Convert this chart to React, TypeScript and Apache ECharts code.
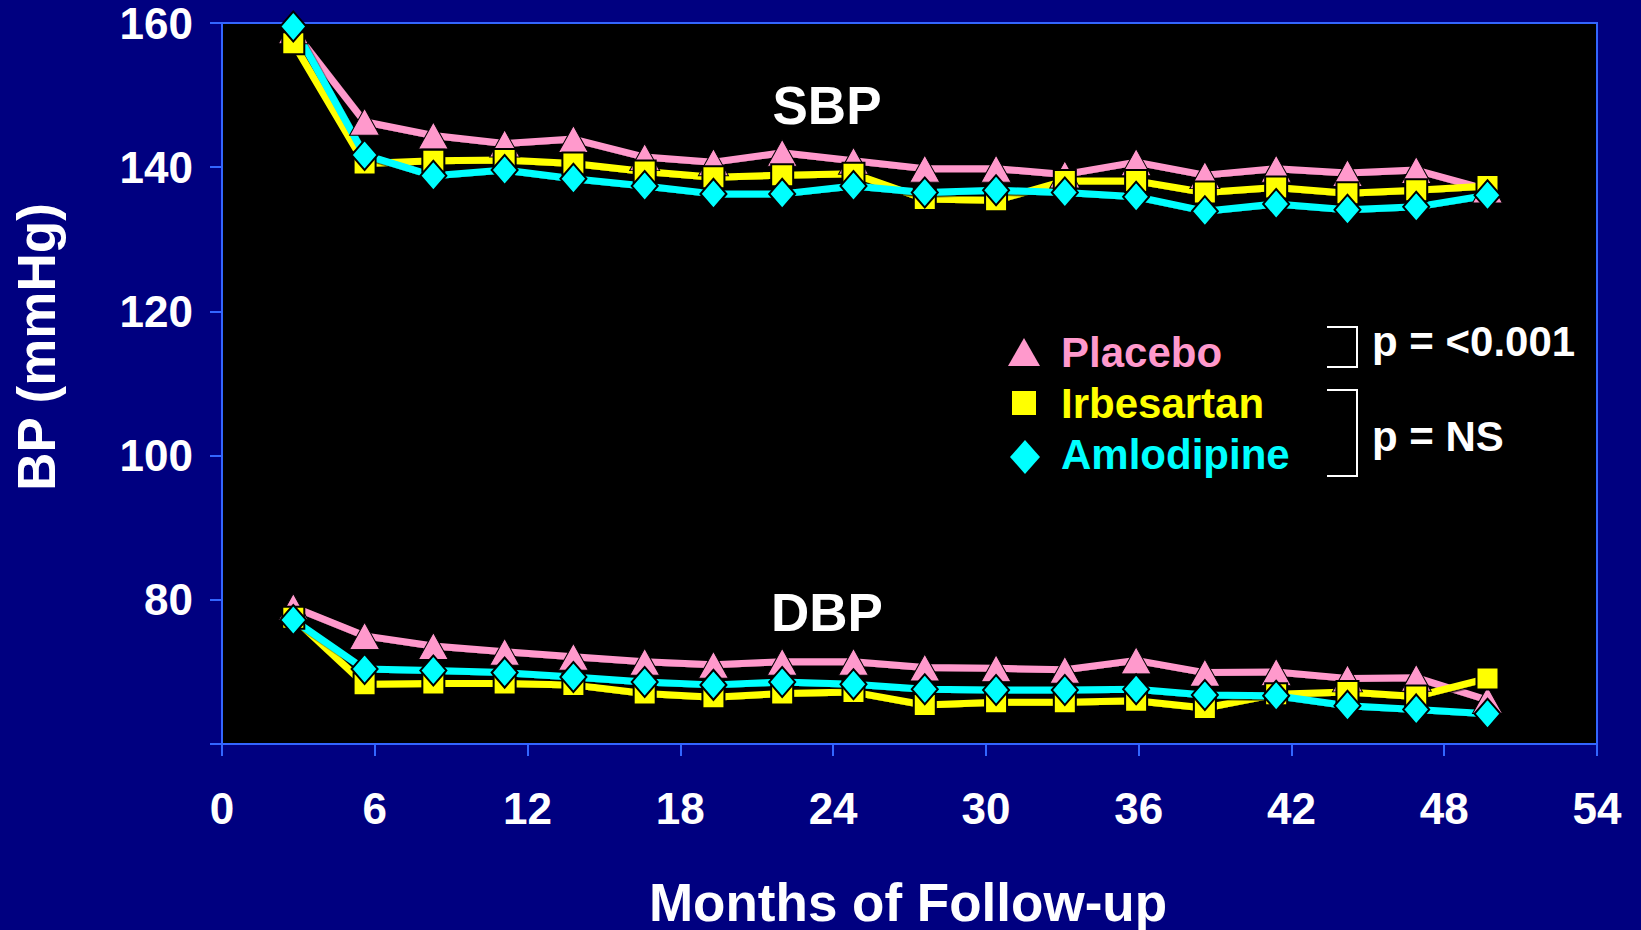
import React, { useEffect, useRef } from "react";
import * as echarts from "echarts";

// Months of follow-up at which BP was measured
const months = [2.8, 5.6, 8.3, 11.1, 13.8, 16.6, 19.3, 22.0, 24.8, 27.6, 30.4, 33.1, 35.9, 38.6, 41.4, 44.2, 46.9, 49.7];

// Systolic BP (mmHg)
const placeboSBP = [159.0, 146.3, 144.4, 143.3, 143.9, 141.4, 140.7, 142.0, 140.9, 139.8, 139.8, 139.0, 140.7, 138.9, 139.8, 139.2, 139.6, 136.9];
const irbesartanSBP = [157.2, 140.5, 140.9, 141.0, 140.5, 139.4, 138.6, 138.9, 139.1, 135.6, 135.4, 138.1, 138.1, 136.5, 137.2, 136.4, 136.8, 137.4];
const amlodipineSBP = [159.5, 141.7, 138.8, 139.6, 138.4, 137.4, 136.3, 136.3, 137.4, 136.5, 136.8, 136.5, 135.9, 133.9, 134.9, 134.1, 134.5, 136.1];

// Diastolic BP (mmHg)
const placeboDBP = [79.0, 75.0, 73.6, 72.8, 72.1, 71.4, 71.0, 71.4, 71.4, 70.6, 70.5, 70.3, 71.6, 69.9, 70.0, 69.1, 69.2, 66.1];
const irbesartanDBP = [77.5, 68.3, 68.4, 68.4, 68.2, 67.0, 66.5, 67.0, 67.2, 65.4, 65.8, 65.8, 66.0, 65.0, 66.9, 67.2, 66.6, 69.1];
const amlodipineDBP = [77.2, 70.4, 70.2, 69.9, 69.3, 68.6, 68.2, 68.6, 68.3, 67.6, 67.5, 67.5, 67.6, 66.8, 66.7, 65.3, 64.8, 64.2];

const groupNames = ["Placebo", "Irbesartan", "Amlodipine"];
const pValueLabels = ["p = <0.001", "p = NS"];
const panelLabels = ["SBP", "DBP"];
const xAxisTitle = "Months of Follow-up";
const yAxisTitle = "BP (mmHg)";

const X_MIN = 0, X_MAX = 54, X_STEP = 6;
const Y_MIN = 60, Y_MAX = 160, Y_STEP = 20;

const FONT = "'Liberation Sans', Arial, Helvetica, sans-serif";
const PINK = "#FF99CC";
const YELLOW = "#FFFF00";
const CYAN = "#00FFFF";
const AXIS = "#3366FF";
const NAVY = "#000080";

const pairs = (vals: number[]) => months.map((m, i) => [m, vals[i]]);

const lineShadow = {
  shadowColor: "rgba(0,0,0,0.85)",
  shadowBlur: 0,
  shadowOffsetX: 1.5,
  shadowOffsetY: 1.5,
};

function makeSeries(name: string, vals: number[], color: string, symbol: string, size: any, borderW: number) {
  return {
    type: "line",
    name,
    data: pairs(vals),
    symbol,
    symbolSize: size,
    showAllSymbol: true,
    lineStyle: { color, width: 7, ...lineShadow },
    itemStyle: { color, borderColor: "#000000", borderWidth: borderW },
    emphasis: { disabled: true },
  };
}

export default function App() {
  const ref = useRef<HTMLDivElement>(null);
  useEffect(() => {
    document.body.style.margin = "0";
    const chart = echarts.init(ref.current!, null, { renderer: "svg" });
    const triSize = [30, 27];
    const sqSize = [22, 22];
    const diaSize = [26, 30];
    const option = {
      animation: false,
      backgroundColor: NAVY,
      grid: {
        left: 222,
        top: 23,
        width: 1375,
        height: 721,
        show: true,
        backgroundColor: "#000000",
        borderColor: AXIS,
        borderWidth: 2,
      },
      xAxis: {
        type: "value",
        min: X_MIN,
        max: X_MAX,
        interval: X_STEP,
        axisLine: { show: true, lineStyle: { color: AXIS, width: 2 } },
        axisTick: { show: true, length: 12, lineStyle: { color: AXIS, width: 2 } },
        splitLine: { show: false },
        axisLabel: {
          color: "#FFFFFF",
          fontFamily: FONT,
          fontWeight: "bold",
          fontSize: 44,
          lineHeight: 40,
          margin: 44,
        },
      },
      yAxis: {
        type: "value",
        min: Y_MIN,
        max: Y_MAX,
        interval: Y_STEP,
        axisLine: { show: true, lineStyle: { color: AXIS, width: 2 } },
        axisTick: { show: true, length: 12, lineStyle: { color: AXIS, width: 2 } },
        splitLine: { show: false },
        axisLabel: {
          color: "#FFFFFF",
          fontFamily: FONT,
          fontWeight: "bold",
          fontSize: 44,
          lineHeight: 40,
          margin: 29,
          formatter: (v: number) => (v === Y_MIN ? "" : String(v)),
        },
      },
      series: [
        makeSeries(groupNames[0], placeboSBP, PINK, "triangle", triSize, 1),
        makeSeries(groupNames[1], irbesartanSBP, YELLOW, "rect", sqSize, 2),
        makeSeries(groupNames[2], amlodipineSBP, CYAN, "diamond", diaSize, 2),
        makeSeries(groupNames[0], placeboDBP, PINK, "triangle", triSize, 1),
        makeSeries(groupNames[1], irbesartanDBP, YELLOW, "rect", sqSize, 2),
        makeSeries(groupNames[2], amlodipineDBP, CYAN, "diamond", diaSize, 2),
      ],
      graphic: [
        {
          type: "text",
          x: 36,
          y: 347,
          rotation: Math.PI / 2,
          style: {
            text: yAxisTitle,
            fill: "#FFFFFF",
            font: `bold 53px ${FONT}`,
            align: "center",
            verticalAlign: "middle",
          },
        },
        {
          type: "text",
          x: 908,
          y: 902,
          style: {
            text: xAxisTitle,
            fill: "#FFFFFF",
            font: `bold 53px ${FONT}`,
            align: "center",
            verticalAlign: "middle",
          },
        },
        {
          type: "text",
          x: 827,
          y: 105,
          z: 10,
          style: { text: panelLabels[0], fill: "#FFFFFF", font: `bold 53px ${FONT}`, align: "center", verticalAlign: "middle" },
        },
        {
          type: "text",
          x: 827,
          y: 612,
          z: 10,
          style: { text: panelLabels[1], fill: "#FFFFFF", font: `bold 53px ${FONT}`, align: "center", verticalAlign: "middle" },
        },
        // legend markers
        {
          type: "polygon",
          z: 10,
          shape: { points: [[1008, 366], [1040, 366], [1024, 338]] },
          style: { fill: PINK },
        },
        {
          type: "rect",
          z: 10,
          shape: { x: 1012, y: 391, width: 24, height: 24 },
          style: { fill: YELLOW },
        },
        {
          type: "polygon",
          z: 10,
          shape: { points: [[1025, 440], [1040, 457], [1025, 474], [1010, 457]] },
          style: { fill: CYAN },
        },
        // legend texts
        {
          type: "text",
          x: 1061,
          y: 352,
          z: 10,
          style: { text: groupNames[0], fill: PINK, font: `bold 42px ${FONT}`, align: "left", verticalAlign: "middle" },
        },
        {
          type: "text",
          x: 1061,
          y: 403,
          z: 10,
          style: { text: groupNames[1], fill: YELLOW, font: `bold 42px ${FONT}`, align: "left", verticalAlign: "middle" },
        },
        {
          type: "text",
          x: 1061,
          y: 454,
          z: 10,
          style: { text: groupNames[2], fill: CYAN, font: `bold 42px ${FONT}`, align: "left", verticalAlign: "middle" },
        },
        // brackets
        {
          type: "polyline",
          z: 10,
          shape: { points: [[1327, 327], [1357, 327], [1357, 367], [1327, 367]] },
          style: { stroke: "#FFFFFF", lineWidth: 2, fill: null },
        },
        {
          type: "polyline",
          z: 10,
          shape: { points: [[1327, 390], [1357, 390], [1357, 476], [1327, 476]] },
          style: { stroke: "#FFFFFF", lineWidth: 2, fill: null },
        },
        {
          type: "text",
          x: 1372,
          y: 341,
          z: 10,
          style: { text: pValueLabels[0], fill: "#FFFFFF", font: `bold 42px ${FONT}`, align: "left", verticalAlign: "middle" },
        },
        {
          type: "text",
          x: 1372,
          y: 436,
          z: 10,
          style: { text: pValueLabels[1], fill: "#FFFFFF", font: `bold 42px ${FONT}`, align: "left", verticalAlign: "middle" },
        },
      ],
    };
    chart.setOption(option as any);
    return () => chart.dispose();
  }, []);
  return (
    <div
      ref={ref}
      style={{ position: "fixed", left: 0, top: 0, width: 1641, height: 930 }}
    />
  );
}
